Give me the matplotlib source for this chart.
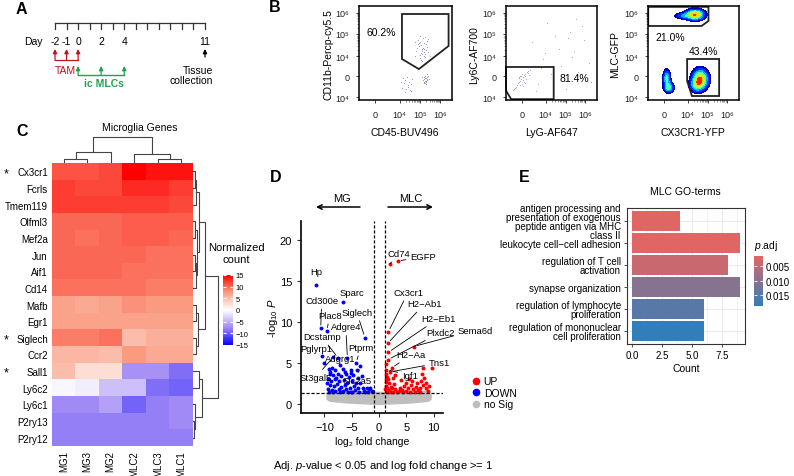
import matplotlib
matplotlib.use('Agg')
import matplotlib.pyplot as plt
import numpy as np
from matplotlib.colors import LinearSegmentedColormap, Normalize
from matplotlib.patches import Polygon
from matplotlib.lines import Line2D

plt.rcParams['font.family'] = ['Liberation Sans', 'DejaVu Sans']
plt.rcParams['mathtext.fontset'] = 'custom'
plt.rcParams['mathtext.rm'] = 'Liberation Sans'
plt.rcParams['mathtext.it'] = 'Liberation Sans:italic'

# ---------------- data ----------------
# A: timeline
days = list(range(-2, 12))
day_labels = [-2, -1, 0, 2, 4, 11]
tam_days = [-2, -1, 0]
mlc_days = [0, 2, 4]
harvest_day = 11

# B: flow plots (axis units: 0=-10^4, 1=0, 2=10^4, 3=10^5, 4=10^6)
flow_ypos = [0, 1, 1.95, 3, 4]
flow_ylab = ['10⁴', '0', '10⁴', '10⁵', '10⁶']
flow_xpos = [1.0, 2.15, 3.1, 4.05]
flow_xlab = ['0', '10⁴', '10⁵', '10⁶']

p1_x = [3.05, 3.22, 3.31, 3.15, 3.40, 2.98, 3.27, 3.12, 3.36, 3.08, 3.45, 3.19, 3.02, 3.29, 3.24, 3.11, 3.38, 2.93,
        3.33, 3.17, 3.50, 3.06, 3.26, 3.14, 3.42, 3.21, 2.88, 3.35, 3.00, 3.30, 3.55, 2.85, 3.10, 3.48, 3.20,
        3.30, 3.38, 3.42, 3.33, 3.27, 3.45, 3.36, 3.40, 3.31, 3.48, 3.24, 3.39, 3.35, 3.44, 3.29, 3.37, 3.52, 3.21,
        3.41, 3.34, 2.35, 2.55, 2.42, 2.68, 2.28, 2.50, 2.62, 2.40, 2.75, 2.20, 2.58, 2.47, 2.33, 2.70, 2.52]
p1_y = [2.45, 2.30, 2.55, 2.10, 2.25, 2.35, 1.95, 2.62, 2.05, 1.85, 2.40, 2.20, 2.70, 2.12, 2.80, 2.00, 2.52, 2.18,
        1.90, 2.48, 2.15, 2.58, 2.35, 1.78, 2.65, 2.05, 1.95, 2.85, 2.50, 2.28, 1.95, 2.60, 2.90, 2.75, 1.70,
        0.85, 0.92, 0.80, 0.75, 0.95, 0.88, 1.02, 0.70, 0.65, 0.98, 0.82, 0.60, 0.90, 1.08, 0.72, 0.78, 0.86, 0.93,
        0.96, 0.68, 0.65, 0.50, 0.80, 0.60, 0.45, 0.95, 0.35, 0.25, 0.85, 0.70, 0.72, 0.40, 0.90, 0.30, 0.58]
p2_x = [0.85, 0.95, 1.05, 1.12, 0.78, 0.92, 1.00, 1.18, 1.25, 0.70, 0.88, 1.08, 1.15, 0.98, 1.30, 0.65, 0.82, 1.02,
        1.22, 0.94, 1.35, 0.75, 1.10, 0.90, 1.40, 0.60, 1.28, 1.05, 0.86, 1.16,
        1.8, 2.4, 3.1, 3.8, 2.0, 2.9, 3.5, 4.2, 1.5, 2.6, 3.3, 4.0, 2.2, 3.0, 3.7, 1.7, 2.8, 3.9, 2.5, 3.4, 1.9, 4.3,
        3.6, 2.1, 3.2]
p2_y = [0.70, 0.85, 0.95, 1.05, 0.55, 0.78, 0.62, 1.10, 1.20, 0.45, 0.90, 0.80, 0.98, 1.00, 1.25, 0.38, 0.66, 1.12,
        0.88, 0.58, 1.05, 0.50, 0.72, 1.02, 1.30, 0.35, 1.15, 0.52, 0.95, 0.68,
        0.6, 1.1, 0.4, 0.9, 1.8, 1.5, 2.2, 1.6, 2.6, 2.9, 3.1, 2.7, 3.5, 0.8, 1.2, 0.3, 2.3, 3.4, 0.5, 1.9, 1.4, 0.7,
        3.7, 2.1, 2.8]
# density blobs for third plot: centre x, centre y, sd x, sd y, weight
blob_cx = [2.50, 1.90, 1.15, 1.25, 2.75, 2.55]
blob_cy = [3.92, 3.86, 0.90, 0.45, 0.85, 0.55]
blob_sx = [0.28, 0.25, 0.11, 0.15, 0.24, 0.20]
blob_sy = [0.16, 0.09, 0.25, 0.15, 0.30, 0.20]
blob_w = [1.0, 0.35, 0.6, 0.6, 1.0, 0.4]

gate1_x = [2.26, 4.44, 4.44, 3.05, 2.26]
gate1_y = [3.95, 3.95, 2.43, 1.33, 1.81]
gate2_x = [0.25, 2.53, 2.53, 0.50, 0.25]
gate2_y = [1.43, 1.43, -0.10, -0.10, 0.30]
gate3a_x = [0.26, 3.14, 3.14, 2.81, 0.26]
gate3a_y = [4.29, 4.29, 3.62, 3.38, 3.38]
gate3b_x = [2.12, 3.65, 3.65, 2.35, 2.12]
gate3b_y = [1.81, 1.81, 0.05, 0.05, 0.76]

# C: heatmap
genes = ['Cx3cr1', 'Fcrls', 'Tmem119', 'Olfml3', 'Mef2a', 'Jun', 'Aif1', 'Cd14', 'Mafb', 'Egr1',
         'Siglech', 'Ccr2', 'Sall1', 'Ly6c2', 'Ly6c1', 'P2ry13', 'P2ry12']
starred = ['Cx3cr1', 'Siglech', 'Sall1']
samples = ['MG1', 'MG3', 'MG2', 'MLC2', 'MLC3', 'MLC1']
hm_vals = [
    [11, 11, 11.5, 15, 14, 14],
    [12, 11.5, 11.5, 13, 13, 12],
    [12, 12, 12, 12, 12, 11.5],
    [10, 10, 10, 10.5, 10.5, 10.5],
    [10, 9.5, 10, 10.5, 10.5, 10],
    [10, 10, 10, 10, 9.5, 9.5],
    [10, 10, 10, 9.5, 9.5, 9.5],
    [9.5, 9.5, 9.5, 9.5, 9, 9],
    [7, 6.5, 7, 8, 7.5, 7.5],
    [7, 7, 7, 7, 7, 7],
    [9, 9, 9.5, 5, 6, 6],
    [5.5, 5.5, 5, 7.5, 6.5, 6.5],
    [5, 2.5, 2.5, -7, -7, -9],
    [-0.5, -1, -4, -4, -9, -9.5],
    [-7.5, -7.5, -6, -9.5, -8, -7.5],
    [-8, -8, -8, -8, -8, -7.5],
    [-8, -8, -8, -8, -8, -8],
]
# dendrograms: (child a, child b, height)
col_merges = [(0, 1, 4), (6, 2, 11), (4, 5, 4), (3, 8, 9), (7, 9, 26)]
row_merges = [(0, 1, 2), (17, 2, 3), (3, 4, 2), (5, 6, 2), (20, 7, 3), (19, 21, 4), (18, 22, 6),
              (8, 9, 3), (10, 11, 3), (24, 25, 5), (23, 26, 12),
              (12, 13, 6), (15, 16, 1), (14, 29, 2), (28, 30, 9), (27, 31, 25)]
cbar_ticks = [15, 10, 5, 0, -5, -10, -15]

# D: volcano
up_x = [2.0, 3.4, 1.7, 1.6, 1.7, 1.6, 6.3, 2.3, 2.0, 1.3,
        8.1, 9.7, 7.9, 8.3, 7.6, 8.6, 8.1, 8.6, 7.4,
        1.2, 1.3, 1.4, 1.2, 1.6, 1.3, 1.8, 1.2, 1.5, 2.2, 1.1, 1.9, 2.4, 2.8, 1.4, 2.6, 3.0, 3.2, 2.1,
        3.8, 4.2, 4.6, 4.9, 5.3, 5.6, 5.9, 6.2, 6.5, 6.8, 7.1, 7.0, 5.0, 4.4, 3.6, 6.0, 7.5, 8.9, 9.2, 5.5,
        4.0, 3.0, 2.6]
up_y = [17.1, 17.4, 8.8, 7.4, 6.3, 5.4, 7.0, 4.4, 3.9, 4.2,
        4.4, 4.4, 3.6, 3.2, 2.8, 2.6, 2.3, 2.0, 2.0,
        4.9, 3.6, 3.3, 3.1, 3.0, 2.7, 2.5, 2.2, 2.0, 2.1, 1.8, 1.7, 1.9, 2.4, 1.5, 1.5, 1.8, 1.5, 1.4,
        2.0, 1.7, 2.2, 1.6, 2.0, 1.5, 2.3, 1.8, 1.5, 2.1, 1.7, 2.5, 2.6, 1.4, 1.6, 2.8, 1.5, 1.6, 2.2, 3.1,
        2.9, 3.5, 3.2]
down_x = [-11.6, -6.6, -10.7, -9.6, -2.6, -10.4, -10.1, -7.5, -5.8, -4.2, -3.5, -7.1, -8.4,
          -9.2, -8.6, -8.0, -6.7, -5.2, -4.0, -9.0, -8.4, -7.6, -6.9, -6.1, -5.5, -4.7, -3.8, -3.1,
          -9.3, -8.8, -8.1, -7.3, -6.5, -5.8, -5.0, -4.3, -3.5, -9.0, -8.3, -7.7, -7.0, -6.2, -5.4,
          -4.6, -3.9, -3.0, -2.3, -1.6, -9.4, -8.7, -8.0, -7.4, -6.7, -6.0, -5.2, -4.4, -3.6, -2.8,
          -2.0, -1.3, -9.1, -8.4, -7.1, -5.7, -4.9, -2.5, -1.8, -8.9, -7.9, -6.3, -9.6, -5.1]
down_y = [14.5, 12.4, 9.2, 8.9, 8.1, 5.8, 5.0, 5.6, 5.6, 5.0, 4.6, 4.8, 5.7,
          4.3, 4.4, 4.2, 4.3, 4.2, 4.1, 3.6, 3.5, 3.7, 3.4, 3.6, 3.3, 3.5, 3.2, 3.4,
          3.0, 2.8, 3.0, 2.8, 2.9, 2.6, 2.8, 2.6, 2.5, 2.3, 2.2, 2.4, 2.1, 2.3, 2.0,
          2.2, 1.9, 2.0, 1.9, 1.9, 1.8, 1.7, 1.6, 1.8, 1.6, 1.8, 1.5, 1.7, 1.5, 1.6,
          1.5, 1.6, 1.4, 1.4, 1.4, 1.4, 1.4, 1.4, 1.8, 3.9, 3.2, 3.9, 2.6, 3.8]
ns_x = [-9.7, -9.3, -6, -3, -1, 1, 3, 6, 9.3, 9.7, 9.6, 9.0, 6, 3, 0, -3, -6, -9.0, -9.6]
ns_y = [1.0, 1.7, 1.6, 1.55, 1.5, 1.5, 1.55, 1.6, 1.7, 1.0, 0.5, 0.25, 0.05, -0.05, -0.15, -0.05, 0.05, 0.25, 0.5]
# label, point x, point y, text x, text y, leader line
vlabels = [
    ('Cd74', 2.0, 17.1, 3.7, 18.3, True), ('EGFP', 3.4, 17.4, 8.0, 18.0, True),
    ('Cx3cr1', 1.7, 8.8, 5.3, 13.6, True), ('H2\u2212Ab1', 1.6, 7.4, 8.3, 12.2, True),
    ('H2\u2212Eb1', 1.7, 6.3, 10.8, 10.4, True), ('Plxdc2', 1.6, 5.4, 11.3, 8.7, True),
    ('Sema6d', 6.3, 7.0, 17.6, 9.0, True), ('H2\u2212Aa', 2.3, 4.4, 5.9, 6.0, True),
    ('Tns1', 2.0, 3.9, 11.0, 5.0, True), ('Igf1', 1.3, 4.2, 5.6, 3.5, True),
    ('Hp', -11.6, 14.5, -11.5, 16.1, False), ('Sparc', -6.6, 12.4, -5.0, 13.6, False),
    ('Cd300e', -10.7, 9.2, -10.5, 12.6, True), ('Plac8', -9.6, 8.9, -9.0, 10.8, True),
    ('Siglech', -2.6, 8.1, -4.1, 11.2, True), ('Adgre4', -5.8, 5.6, -6.1, 9.4, True),
    ('Dcstamp', -7.5, 5.6, -10.5, 8.2, True), ('Pglyrp1', -10.4, 5.8, -11.5, 6.8, False),
    ('Ptprm', -4.2, 5.0, -3.4, 6.9, True), ('Adgrg1', -7.1, 4.8, -7.1, 5.5, False),
    ('St3gal5', -8.4, 5.7, -11.7, 3.2, True), ('Slc2a5', -3.5, 4.6, -4.1, 2.8, True),
]

# E: GO terms
go_terms = ['antigen processing and\npresentation of exogenous\npeptide antigen via MHC\nclass II',
            'leukocyte cell\u2212cell adhesion', 'regulation of T cell\nactivation', 'synapse organization',
            'regulation of lymphocyte\nproliferation', 'regulation of mononuclear\ncell proliferation']
go_count = [4, 9, 8, 9, 6, 6]
go_padj = [0.0016, 0.0017, 0.0038, 0.0105, 0.0150, 0.0188]

# ---------------- figure ----------------
W, H = 794, 477
fig = plt.figure(figsize=(W / 100, H / 100), dpi=100)


def box(x0, y0, x1, y1):
    return fig.add_axes([x0 / W, 1 - y1 / H, (x1 - x0) / W, (y1 - y0) / H])


def ftext(x, y, s, **kw):
    kw.setdefault('ha', 'center')
    kw.setdefault('va', 'center')
    return fig.text(x / W, 1 - y / H, s, **kw)


for lab, x, y in [('A', 21, 10), ('B', 275, 8), ('C', 22, 132), ('D', 276, 178), ('E', 524, 178)]:
    ftext(x, y, lab, fontsize=11.5, fontweight='bold')

# ----- A -----
red, green = '#c1121f', '#1ea34a'
axA = box(55, 15, 205, 95)
axA.set_xlim(-2, 11)
axA.set_ylim(95, 15)
axA.axis('off')
axA.plot([days[0], days[-1]], [24, 24], color='#333333', lw=0.9, clip_on=False)
for d in days:
    axA.plot([d, d], [24, 29.5], color='#333333', lw=0.9, clip_on=False)
for d in day_labels:
    axA.text(d, 42, str(d), ha='center', va='center', fontsize=7.5)
axA.text(-3.9, 42, 'Day', ha='center', va='center', fontsize=7.5)


def up_arrow(ax, x, y0, y1, color):
    ax.annotate('', xy=(x, y1), xytext=(x, y0), annotation_clip=False,
                arrowprops=dict(arrowstyle='-|>', color=color, lw=0.9, mutation_scale=6, shrinkA=0, shrinkB=0))


for d in tam_days:
    up_arrow(axA, d, 61, 50, red)
axA.plot([tam_days[0], tam_days[-1]], [61, 61], color=red, lw=0.9, clip_on=False)
axA.text(np.mean(tam_days) - 0.1, 71, 'TAM', color=red, ha='center', va='center', fontsize=7.5)
for d in mlc_days:
    up_arrow(axA, d, 76, 67, green)
axA.plot([mlc_days[0], mlc_days[-1]], [76, 76], color=green, lw=1.0, clip_on=False)
axA.text(np.mean(mlc_days) + 0.25, 84, 'ic MLCs', color=green, ha='center', va='center', fontsize=7.5,
         fontweight='bold')
up_arrow(axA, harvest_day, 58, 50, 'black')
axA.text(harvest_day + 0.7, 76, 'Tissue\ncollection', ha='right', va='center', fontsize=7.5,
         multialignment='right', linespacing=1.1)


# ----- B -----
def flow_axes(x0, x1, ylabel, ylab_x):
    ax = box(x0, 7, x1, 101)
    ax.set_xlim(0.25, 4.6)
    ax.set_ylim(-0.14, 4.33)
    ax.set_yticks(flow_ypos)
    ax.set_yticklabels(flow_ylab, fontsize=6.5)
    ax.set_xticks(flow_xpos)
    ax.set_xticklabels(flow_xlab, fontsize=6.5)
    ax.set_yticks([1.95 + np.log10(k) for k in range(2, 10)] + [3 + np.log10(k) for k in range(2, 10)], minor=True)
    ax.set_xticks([2.15 + 0.95 * np.log10(k) for k in range(2, 10)] + [3.1 + 0.95 * np.log10(k) for k in range(2, 10)],
                  minor=True)
    ax.tick_params(which='major', length=2, width=0.6, pad=5, colors='#222222')
    ax.tick_params(which='minor', length=1.2, width=0.4, colors='#444444')
    for s in ax.spines.values():
        s.set_linewidth(1.1)
    ftext(ylab_x, 55, ylabel, rotation=90, fontsize=7.5)
    return ax


ax1 = flow_axes(359, 452, 'CD11b-Percp-cy5.5', 328)
ax1.scatter(p1_x, p1_y, s=0.6, color='#5a5ab8', alpha=0.7, lw=0)
ax1.add_patch(Polygon(np.column_stack([gate1_x, gate1_y]), closed=True, fill=False, lw=1.3, ec='#222222'))
ax1.text(1.3, 3.1, '60.2%', fontsize=7.5, ha='center', va='center')
ftext(405, 133, 'CD45-BUV496', fontsize=7.5)

ax2 = flow_axes(506, 597, 'Ly6C-AF700', 474)
ax2.scatter(p2_x, p2_y, s=0.6, color='#5a5ab8', alpha=0.6, lw=0)
ax2.add_patch(Polygon(np.column_stack([gate2_x, gate2_y]), closed=True, fill=False, lw=1.3, ec='#222222',
                      clip_on=False))
ax2.text(3.5, 0.9, '81.4%', fontsize=7.5, ha='center', va='center')
ftext(551, 133, 'LyG-AF647', fontsize=7.5)

ax3 = flow_axes(648, 739, 'MLC-GFP', 615)
gx, gy = np.meshgrid(np.linspace(0.25, 4.6, 300), np.linspace(-0.14, 4.33, 300))
dens = np.zeros_like(gx)
for cx, cy, sx, sy, w in zip(blob_cx, blob_cy, blob_sx, blob_sy, blob_w):
    dens += w * np.exp(-0.5 * (((gx - cx) / sx) ** 2 + ((gy - cy) / sy) ** 2))
ax3.contourf(gx, gy, dens, levels=[0.12, 0.25, 0.4, 0.55, 0.7, 0.85, 1.0, 1.3], cmap='jet')
ax3.add_patch(Polygon(np.column_stack([gate3a_x, gate3a_y]), closed=True, fill=False, lw=1.3, ec='#222222'))
ax3.add_patch(Polygon(np.column_stack([gate3b_x, gate3b_y]), closed=True, fill=False, lw=1.3, ec='#222222'))
ax3.text(1.3, 2.86, '21.0%', fontsize=7.5, ha='center', va='center')
ax3.text(2.9, 2.2, '43.4%', fontsize=7.5, ha='center', va='center')
ftext(693, 133, 'CX3CR1-YFP', fontsize=7.5)

# ----- C -----
hm_cmap = LinearSegmentedColormap.from_list('hm', [(0, '#0000ff'), (0.25, '#a28af6'), (0.5, '#ffffff'),
                                                   (0.75, '#fa9d82'), (1, '#ff0000')])
axC = box(52, 164, 193, 447)
im = axC.imshow(np.array(hm_vals), cmap=hm_cmap, vmin=-15, vmax=15, aspect='auto', interpolation='nearest')
axC.set_yticks(range(len(genes)))
axC.set_yticklabels(genes, fontsize=7)
axC.set_xticks(range(len(samples)))
axC.set_xticklabels(samples, fontsize=7, rotation=90)
axC.tick_params(length=0, pad=3)
for s in axC.spines.values():
    s.set_visible(False)
for i, g in enumerate(genes):
    if g in starred:
        axC.text(-2.45, i + 0.1, '*', fontsize=9, ha='center', va='center', clip_on=False)
ftext(140, 128, 'Microglia Genes', fontsize=7.5)


def draw_dendro(ax, merges, n, side):
    pos = {i: float(i) for i in range(n)}
    hgt = {i: 0.0 for i in range(n)}
    for k, (a, b, h) in enumerate(merges):
        xs = [pos[a], pos[a], pos[b], pos[b]]
        ys = [hgt[a], h, h, hgt[b]]
        if side == 'top':
            ax.plot(xs, ys, color='#444444', lw=0.8)
        else:
            ax.plot(ys, xs, color='#444444', lw=0.8)
        pos[n + k] = (pos[a] + pos[b]) / 2
        hgt[n + k] = h


axCt = box(52, 134, 193, 164)
axCt.set_xlim(-0.5, len(samples) - 0.5)
axCt.set_ylim(0, 30)
axCt.axis('off')
draw_dendro(axCt, col_merges, len(samples), 'top')
axCr = box(193, 164, 226, 447)
axCr.set_ylim(len(genes) - 0.5, -0.5)
axCr.set_xlim(0, 33)
axCr.axis('off')
draw_dendro(axCr, row_merges, len(genes), 'right')

cax = box(223, 276, 233, 346)
cb = fig.colorbar(im, cax=cax, ticks=cbar_ticks)
cb.outline.set_visible(False)
cb.ax.set_yticklabels([str(t).replace('-', '\u2212') for t in cbar_ticks])
cb.ax.tick_params(labelsize=5.5, direction='in', color='white', length=2.5, width=0.8, pad=2, left=True)
ftext(236, 254, 'Normalized\ncount', fontsize=8, linespacing=1.15)

# ----- D -----
axD = box(301, 222, 443, 414)
axD.fill(ns_x, ns_y, color='#bebebe', lw=0, zorder=1)
axD.scatter(up_x, up_y, s=8, color='#ff0000', lw=0, zorder=2)
axD.scatter(down_x, down_y, s=8, color='#0000ff', lw=0, zorder=2)
for v in (-1, 1):
    axD.axvline(v, color='black', lw=0.9, ls=(0, (2.5, 1.5)), zorder=3)
axD.axhline(-np.log10(0.05), color='black', lw=0.9, ls=(0, (2.5, 1.5)), zorder=3)
for name, px, py, tx, ty, line in vlabels:
    props = dict(arrowstyle='-', color='black', lw=0.6, shrinkA=1, shrinkB=2.5) if line else None
    axD.annotate(name, xy=(px, py), xytext=(tx, ty), fontsize=6.8, ha='center', va='center',
                 arrowprops=props, annotation_clip=False, zorder=4)
axD.set_xlim(-14.3, 11.7)
axD.set_ylim(-1.1, 22.3)
axD.set_xticks([-10, -5, 0, 5, 10])
axD.set_yticks([0, 5, 10, 15, 20])
axD.tick_params(labelsize=8, length=3, width=0.8, color='#333333')
axD.spines['top'].set_visible(False)
axD.spines['right'].set_visible(False)
for s in ('left', 'bottom'):
    axD.spines[s].set_linewidth(1.2)
axD.set_xlabel('log₂ fold change', fontsize=7.5, labelpad=3)
axD.set_ylabel(r'-log$_{10}$ $\mathit{P}$', fontsize=8, labelpad=0)
ftext(342, 199, 'MG', fontsize=8)
ftext(411, 199, 'MLC', fontsize=8)
axD.annotate('', xy=(316 / W, 1 - 208 / H), xytext=(360 / W, 1 - 208 / H), xycoords='figure fraction',
             arrowprops=dict(arrowstyle='->', color='black', lw=1.1, mutation_scale=8, shrinkA=0, shrinkB=0))
axD.annotate('', xy=(433 / W, 1 - 208 / H), xytext=(388 / W, 1 - 208 / H), xycoords='figure fraction',
             arrowprops=dict(arrowstyle='->', color='black', lw=1.1, mutation_scale=8, shrinkA=0, shrinkB=0))
handles = [Line2D([], [], marker='o', ls='', color=c, markersize=4.5) for c in ('#ff0000', '#0000ff', '#bebebe')]
axD.legend(handles, ['UP', 'DOWN', 'no Sig'], loc='upper left', bbox_to_anchor=(465 / W, 1 - 372 / H),
           bbox_transform=fig.transFigure, frameon=False, fontsize=7.5, handletextpad=0.1, labelspacing=0.15,
           borderpad=0, handlelength=1.2)
ftext(383, 466, r'Adj. $\mathit{p}$-value < 0.05 and log fold change >= 1', fontsize=8)

# ----- E -----
go_cmap = LinearSegmentedColormap.from_list('go', ['#e06663', '#327eba'])
go_norm = Normalize(0.0015, 0.0188)
axE = box(627, 209, 745, 345)
ypos = np.arange(len(go_terms))[::-1]
axE.set_axisbelow(True)
axE.barh(ypos, go_count, height=0.9, color=go_cmap(go_norm(np.array(go_padj))), zorder=2)
axE.set_xlim(-0.45, 9.45)
axE.set_ylim(-0.6, len(go_terms) - 0.4)
axE.set_xticks([0, 2.5, 5, 7.5])
axE.set_xticklabels(['0.0', '2.5', '5.0', '7.5'])
axE.set_xticks([1.25, 3.75, 6.25, 8.75], minor=True)
axE.set_yticks(ypos)
axE.set_yticklabels(go_terms, fontsize=5.6, linespacing=0.85)
axE.grid(True, which='major', color='#ebebeb', lw=0.8)
axE.grid(True, which='minor', axis='x', color='#ebebeb', lw=0.4)
axE.tick_params(which='major', labelsize=7, length=2.5, width=0.6, pad=2, color='#333333')
axE.tick_params(which='minor', length=0)
for s in axE.spines.values():
    s.set_color('#333333')
    s.set_linewidth(0.8)
axE.set_xlabel('Count', fontsize=7.5, labelpad=2)
ftext(685, 192, 'MLC GO-terms', fontsize=7.5)

caxE = box(754, 257, 763, 307)
sm = plt.cm.ScalarMappable(norm=go_norm, cmap=go_cmap)
cbE = fig.colorbar(sm, cax=caxE, ticks=[0.005, 0.010, 0.015])
cbE.ax.invert_yaxis()
cbE.outline.set_visible(False)
cbE.ax.set_yticklabels(['0.005', '0.010', '0.015'])
cbE.ax.tick_params(labelsize=7, direction='in', color='white', length=2, width=0.6, pad=2, left=True)
ftext(754, 246, r'$\mathit{p}$.adj', fontsize=7.5, ha='left')

fig.savefig('out.png', dpi=100)
